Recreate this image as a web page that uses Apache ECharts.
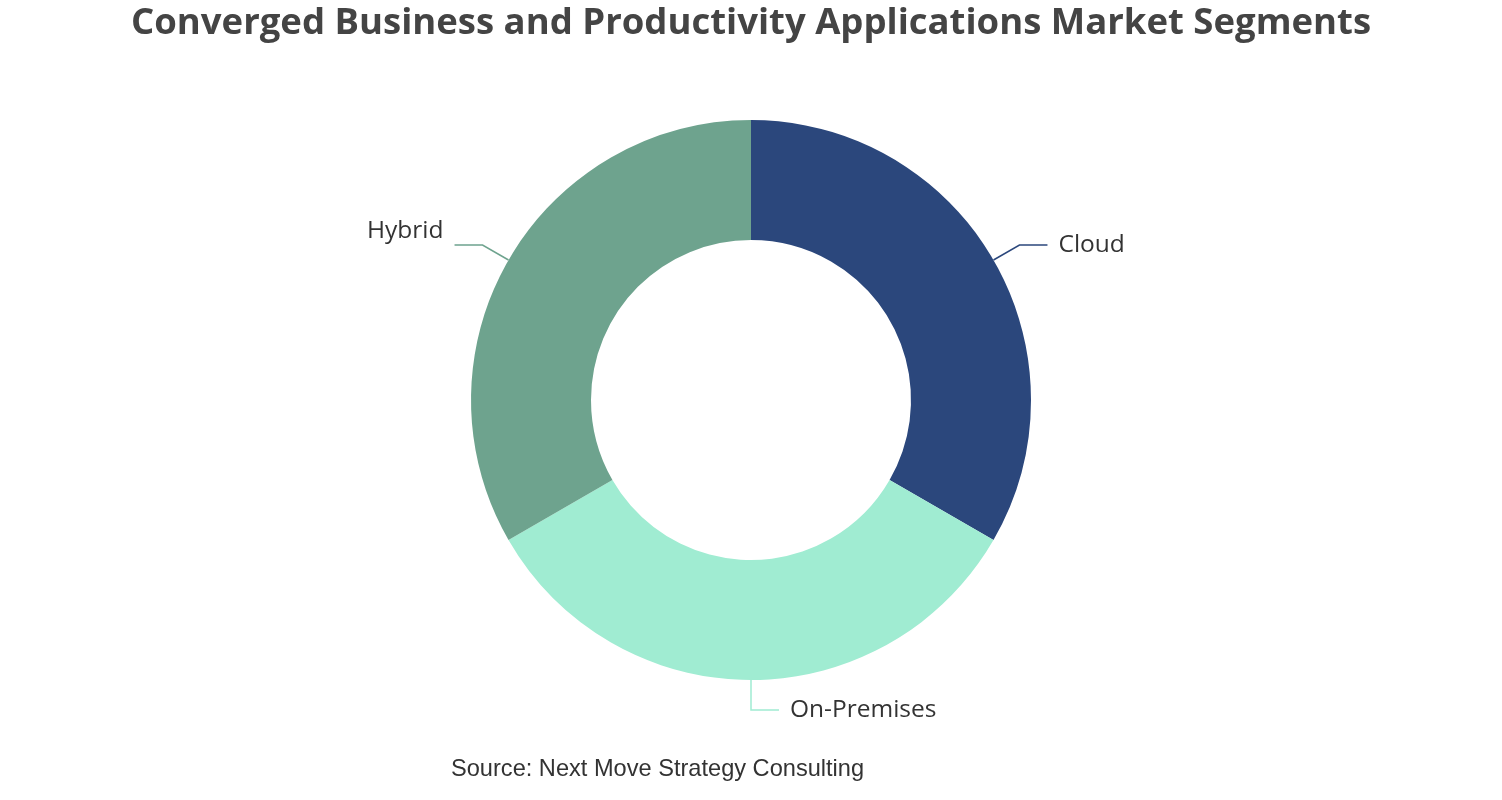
<!DOCTYPE html>
<html><head><meta charset="utf-8">
<script src="https://cdn.jsdelivr.net/npm/echarts@6/dist/echarts.min.js"></script>
<style>html,body{margin:0;padding:0;background:#fff}#c{width:1502px;height:800px}</style>
</head><body><div id="c"></div>
<script>
const categories = ['Cloud', 'On-Premises', 'Hybrid'];
const values = [33.3, 33.3, 33.3];
const colors = ['#2b477c', '#a0ecd2', '#6ea38e'];
const chart = echarts.init(document.getElementById('c'));
chart.setOption({
  animation: false,
  title: [{
    text: 'Converged Business and Productivity Applications Market Segments',
    left: 'center', top: 0,
    textStyle: {fontFamily: 'Open Sans', fontWeight: 'bold', fontSize: 36.5, color: '#444'}
  }, {
    text: 'Source: Next Move Strategy Consulting',
    left: 446, top: 752,
    textStyle: {fontFamily: 'Liberation Sans', fontWeight: 'normal', fontSize: 23.6, color: '#333'}
  }],
  series: [{
    type: 'pie',
    center: ['50%', '50%'],
    radius: ['40%', '70%'],
    startAngle: 90,
    clockwise: true,
    data: categories.map((n, i) => {
      const d = {name: n, value: values[i], itemStyle: {color: colors[i]}};
      if (n === 'Hybrid') d.label = {formatter: '{b}\n ', lineHeight: 28};
      return d;
    }),
    label: {fontFamily: 'Open Sans', fontSize: 24.5, color: '#333', distanceToLabelLine: 11},
    labelLine: {length: 30, length2: 28, lineStyle: {width: 1.5}}
  }]
});
</script></body></html>
